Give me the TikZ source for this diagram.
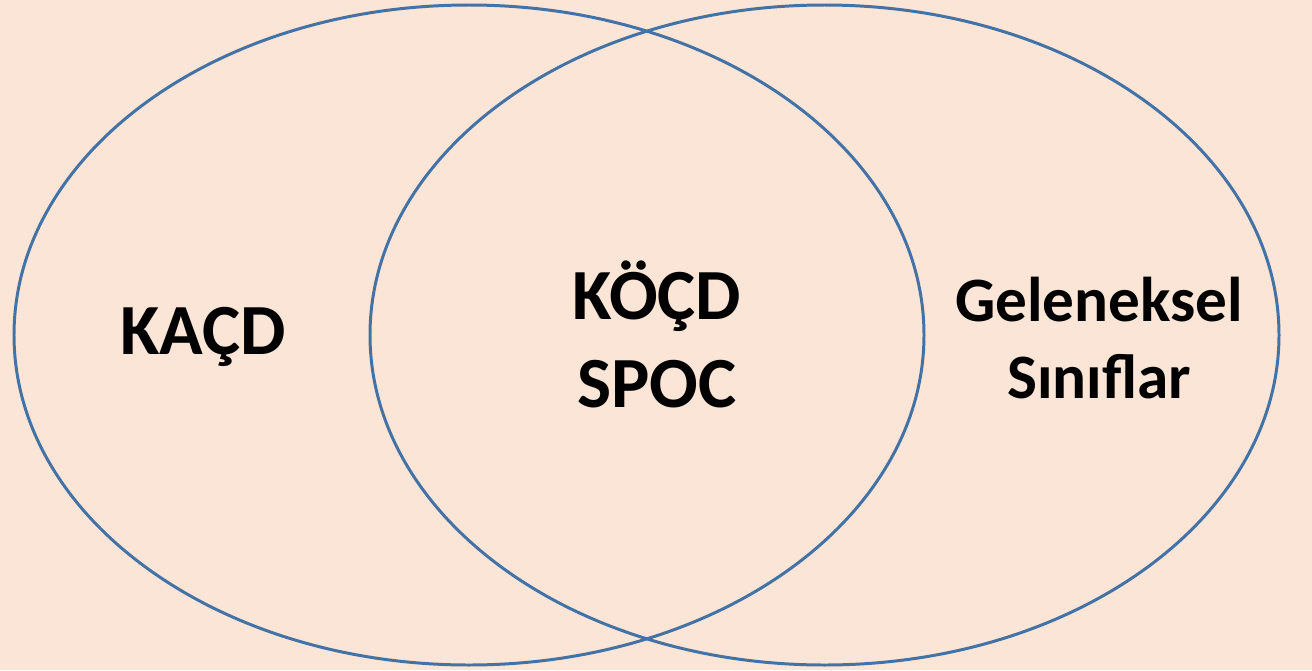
\documentclass[tikz,border=0pt]{standalone}
\usepackage{fontspec}
\setmainfont{Carlito}
\usepackage{tikz}
\usetikzlibrary{positioning}

\definecolor{peach}{RGB}{251,229,214}
\definecolor{setblue}{RGB}{66,114,166}

\begin{document}
\begin{tikzpicture}[x=0.02cm, y=-0.02cm,
  setline/.style={draw=setblue, line width=1.7pt},
  biglabel/.style={font=\fontsize{41}{50}\selectfont\bfseries, align=center},
  smalllabel/.style={font=\fontsize{36}{44}\selectfont\bfseries, align=center}]

  % Background
  \fill[peach] (0,0) rectangle (1312,670);
  \useasboundingbox (0,0) rectangle (1312,670);

  % Draw the two sets
  \draw[setline] (469,335) ellipse [x radius=455, y radius=330];
  \draw[setline] (824.5,335) ellipse [x radius=454.5, y radius=330];

  % Labels of the regions
  \node[biglabel] (kacd) at (203,337) {KAÇD};
  \node[biglabel] (kocd) at (657,334) {KÖÇD\\SPOC};
  \node[smalllabel] (geleneksel) at (1099,338) {Geleneksel\\Sınıflar};

\end{tikzpicture}
\end{document}
